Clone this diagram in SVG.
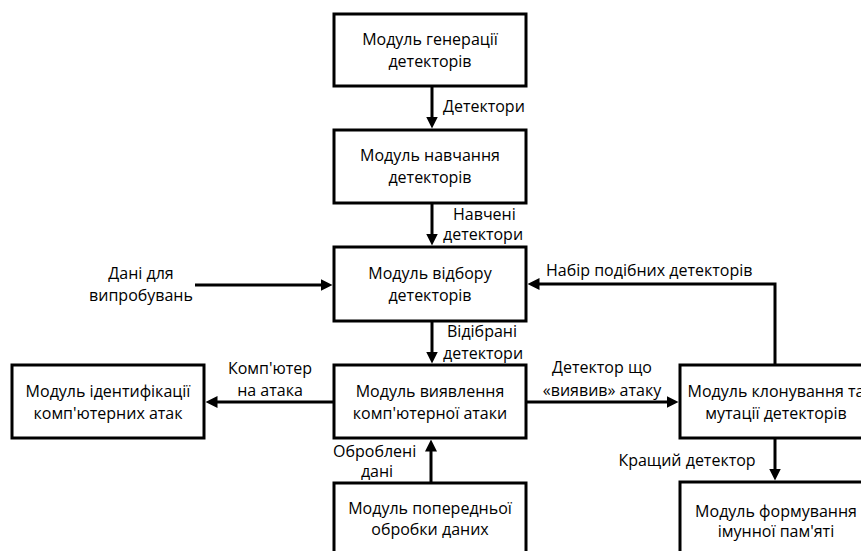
<svg xmlns="http://www.w3.org/2000/svg" width="861" height="551" viewBox="0 0 861 551">
<defs>
<style>
.box{fill:#fff;stroke:#000;stroke-width:3}
.t{font-family:"Open Sans","Noto Sans","Liberation Sans",sans-serif;font-size:16px;fill:#000;text-anchor:middle}
.l{font-family:"Open Sans","Noto Sans","Liberation Sans",sans-serif;font-size:16px;fill:#000}
.c{fill:none;stroke:#000;stroke-width:3}
</style>
<marker id="ah" markerUnits="userSpaceOnUse" markerWidth="12" markerHeight="12" viewBox="0 0 12 12" refX="3" refY="6" orient="auto">
<path d="M0,0 L12,6 L0,12 z" fill="#000"/>
</marker>
</defs>
<rect width="861" height="551" fill="#fff"/>
<g id="connectors">
<line class="c" x1="432" y1="86" x2="432" y2="119.5" marker-end="url(#ah)"/>
<line class="c" x1="432" y1="203" x2="432" y2="236.5" marker-end="url(#ah)"/>
<line class="c" x1="432" y1="321" x2="432" y2="354.5" marker-end="url(#ah)"/>
<line class="c" x1="195" y1="285" x2="323.5" y2="285" marker-end="url(#ah)"/>
<line class="c" x1="334" y1="402" x2="214.5" y2="402" marker-end="url(#ah)"/>
<line class="c" x1="526" y1="402" x2="669.5" y2="402" marker-end="url(#ah)"/>
<polyline class="c" points="775,365 775,284 536.5,284" marker-end="url(#ah)"/>
<line class="c" x1="431" y1="483" x2="431" y2="448.5" marker-end="url(#ah)"/>
<line class="c" x1="775" y1="438" x2="775" y2="471.5" marker-end="url(#ah)"/>
</g>
<g id="labels">
<text class="l" x="443" y="112">Детектори</text>
<text class="l" x="453" y="220">Навчені</text>
<text class="l" x="443" y="240">детектори</text>
<text class="t" x="141" y="279">Дані для</text>
<text class="t" x="141" y="301">випробувань</text>
<text class="l" x="546" y="276">Набір подібних детекторів</text>
<text class="l" x="447" y="337">Відібрані</text>
<text class="l" x="443" y="359">детектори</text>
<text class="t" x="270" y="374">Комп'ютер</text>
<text class="t" x="270" y="396">на атака</text>
<text class="t" x="602" y="373">Детектор що</text>
<text class="t" x="602" y="396">«виявив» атаку</text>
<text class="l" x="333" y="457">Оброблені</text>
<text class="t" x="377" y="477">дані</text>
<text class="t" x="687" y="466">Кращий детектор</text>
</g>
<g id="gen">
<rect class="box" x="334" y="14" width="192" height="72"/>
<text class="t" x="430" y="45">Модуль генерації</text>
<text class="t" x="430" y="67">детекторів</text>
</g>
<g id="train">
<rect class="box" x="334" y="130" width="192" height="73"/>
<text class="t" x="430" y="161">Модуль навчання</text>
<text class="t" x="430" y="183">детекторів</text>
</g>
<g id="select">
<rect class="box" x="334" y="247" width="192" height="74"/>
<text class="t" x="430" y="279">Модуль відбору</text>
<text class="t" x="430" y="301">детекторів</text>
</g>
<g id="detect">
<rect class="box" x="334" y="365" width="192" height="73"/>
<text class="t" x="430" y="397">Модуль виявлення</text>
<text class="t" x="430" y="419">комп'ютерної атаки</text>
</g>
<g id="ident">
<rect class="box" x="12" y="365" width="192" height="73"/>
<text class="t" x="108" y="397">Модуль ідентифікації</text>
<text class="t" x="108" y="419">комп'ютерних атак</text>
</g>
<g id="clone">
<rect class="box" x="680" y="365" width="192" height="73"/>
<text class="t" x="776" y="397">Модуль клонування та</text>
<text class="t" x="776" y="419">мутації детекторів</text>
</g>
<g id="preproc">
<rect class="box" x="334" y="483" width="192" height="73"/>
<text class="t" x="430" y="514">Модуль попередньої</text>
<text class="t" x="430" y="535">обробки даних</text>
</g>
<g id="memory">
<rect class="box" x="680" y="482" width="192" height="73"/>
<text class="t" x="776" y="517">Модуль формування</text>
<text class="t" x="776" y="537">імунної пам'яті</text>
</g>
</svg>
